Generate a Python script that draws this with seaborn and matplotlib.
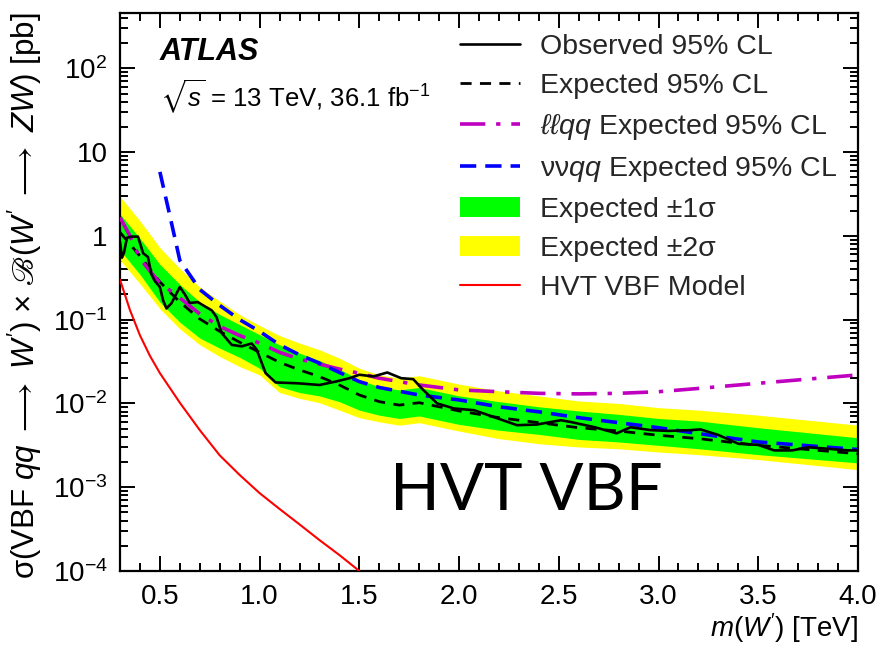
import numpy as np
import matplotlib
matplotlib.use("Agg")
import matplotlib.pyplot as plt
import seaborn as sns
from matplotlib.lines import Line2D
from matplotlib.patches import Patch
from matplotlib.ticker import FixedLocator, LogLocator, NullFormatter, MultipleLocator

# ---------------- data ----------------
mass_exp = [0.3, 0.4, 0.5, 0.6, 0.7, 0.8, 0.9, 1.0, 1.1, 1.2, 1.3, 1.4, 1.5, 1.6, 1.7,
            1.8, 1.9, 2.0, 2.2, 2.4, 2.6, 2.8, 3.0, 3.2, 3.5, 4.0]
exp_limit = [1.10, 0.575, 0.282, 0.162, 0.102, 0.0724, 0.0537, 0.0407, 0.0309, 0.0251,
             0.0209, 0.0166, 0.0126, 0.0105, 0.00955, 0.0102, 0.00912, 0.00813, 0.00676,
             0.00589, 0.00513, 0.00468, 0.00417, 0.00380, 0.00316, 0.00251]
green_hi = [1.82, 0.933, 0.457, 0.263, 0.162, 0.115, 0.0871, 0.0661, 0.0501, 0.0398,
            0.0324, 0.0257, 0.0191, 0.0158, 0.0145, 0.0155, 0.0138, 0.0123, 0.0105,
            0.00912, 0.00813, 0.00741, 0.00661, 0.00617, 0.00513, 0.00389]
green_lo = [0.676, 0.347, 0.162, 0.0933, 0.0603, 0.0457, 0.0355, 0.0263, 0.0158, 0.0135,
            0.0123, 0.0105, 0.00832, 0.00724, 0.00661, 0.00708, 0.00631, 0.00562, 0.00479,
            0.00427, 0.00372, 0.00347, 0.00316, 0.00288, 0.00245, 0.00195]
yellow_hi = [2.95, 1.51, 0.724, 0.407, 0.245, 0.166, 0.115, 0.0851, 0.0646, 0.0525,
             0.0437, 0.0347, 0.0263, 0.0219, 0.0200, 0.0214, 0.0191, 0.0170, 0.0141,
             0.0123, 0.0107, 0.0100, 0.00891, 0.00832, 0.00724, 0.00550]
yellow_lo = [0.513, 0.269, 0.135, 0.0776, 0.0501, 0.0363, 0.0275, 0.0219, 0.0135, 0.0115,
             0.0102, 0.00832, 0.00676, 0.00603, 0.00550, 0.00589, 0.00525, 0.00468,
             0.00380, 0.00331, 0.00302, 0.00288, 0.00263, 0.00245, 0.00214, 0.00162]

mass_obs = [0.30, 0.31, 0.32, 0.335, 0.357, 0.39, 0.416, 0.44, 0.457, 0.474, 0.50, 0.516,
            0.533, 0.558, 0.60, 0.625, 0.65, 0.69, 0.717, 0.76, 0.784, 0.81, 0.86, 0.91,
            0.96, 0.985, 1.03, 1.08, 1.19, 1.30, 1.38, 1.45, 1.50, 1.57, 1.64, 1.71, 1.77,
            1.82, 1.89, 1.975, 2.075, 2.18, 2.29, 2.39, 2.51, 2.56, 2.68, 2.79, 2.86, 2.96,
            3.05, 3.16, 3.21, 3.30, 3.40, 3.50, 3.58, 3.67, 3.75, 3.83, 3.95, 4.0]
obs_limit = [0.85, 0.55, 0.63, 0.95, 0.98, 0.98, 0.62, 0.56, 0.35, 0.29, 0.245, 0.17,
             0.136, 0.157, 0.245, 0.20, 0.158, 0.162, 0.148, 0.129, 0.107, 0.069, 0.050,
             0.048, 0.052, 0.044, 0.023, 0.0178, 0.0174, 0.0166, 0.0182, 0.020, 0.022,
             0.021, 0.0234, 0.020, 0.0195, 0.0145, 0.010, 0.0087, 0.0083, 0.0068, 0.0055,
             0.0056, 0.0063, 0.0060, 0.0052, 0.0044, 0.0052, 0.0048, 0.0047, 0.0048,
             0.0049, 0.0042, 0.0033, 0.0032, 0.00275, 0.00275, 0.0030, 0.0029, 0.00275,
             0.00275]

mass_llqq = [0.3, 0.35, 0.4, 0.45, 0.5, 0.6, 0.7, 0.8, 0.9, 1.0, 1.1, 1.2, 1.3, 1.4, 1.5,
             1.6, 1.8, 2.0, 2.2, 2.4, 2.6, 2.8, 3.0, 3.2, 3.5, 4.0]
llqq_limit = [1.66, 1.0, 0.537, 0.380, 0.275, 0.182, 0.117, 0.0832, 0.0646, 0.0525,
              0.0407, 0.0339, 0.0295, 0.0257, 0.0229, 0.0200, 0.0166, 0.0145, 0.0138,
              0.0132, 0.0130, 0.0132, 0.0138, 0.0151, 0.0174, 0.0219]

mass_vvqq = [0.5, 0.55, 0.6, 0.7, 0.8, 0.9, 1.0, 1.1, 1.2, 1.3, 1.4, 1.5, 1.6, 1.8, 2.0,
             2.2, 2.4, 2.6, 2.8, 3.0, 3.2, 3.5, 4.0]
vvqq_limit = [5.8, 1.74, 0.51, 0.229, 0.148, 0.100, 0.0724, 0.0501, 0.0380, 0.0302,
              0.0234, 0.0182, 0.0155, 0.0126, 0.0110, 0.00912, 0.00794, 0.00676, 0.00589,
              0.00513, 0.00437, 0.00347, 0.00282]

mass_hvt = [0.3, 0.35, 0.4, 0.45, 0.5, 0.6, 0.7, 0.8, 0.9, 1.0, 1.1, 1.2, 1.3, 1.4, 1.5]
hvt_xsec = [0.30, 0.13, 0.065, 0.037, 0.023, 0.0102, 0.0048, 0.0024, 0.0014, 0.00085,
            0.00055, 0.00036, 0.000234, 0.000155, 0.0001]

xtick_values = [0.5, 1.0, 1.5, 2.0, 2.5, 3.0, 3.5, 4.0]
xtick_labels = ["0.5", "1.0", "1.5", "2.0", "2.5", "3.0", "3.5", "4.0"]
ytick_values = [1e-4, 1e-3, 1e-2, 1e-1, 1, 10, 100]
ytick_labels = [r"$10^{-4}$", r"$10^{-3}$", r"$10^{-2}$", r"$10^{-1}$", "1", "10", r"$10^{2}$"]

legend_labels = ["Observed 95% CL", "Expected 95% CL", r"$\ell\ell qq$ Expected 95% CL",
                 r"νν$qq$ Expected 95% CL", "Expected ±1σ", "Expected ±2σ",
                 "HVT VBF Model"]

# ---------------- style ----------------
sns.set_theme(style="ticks")
plt.rcParams.update({
    "mathtext.fontset": "custom",
    "mathtext.rm": "Liberation Sans",
    "mathtext.it": "Liberation Sans:italic",
    "mathtext.bf": "Liberation Sans:bold",
    "mathtext.fallback": "stix",
    "axes.linewidth": 1.5,
})
plt.rcParams["font.family"] = ["Liberation Sans", "DejaVu Sans"]

BLACK = "#000000"
MAGENTA = "#C000C0"
BLUE = "#0000FF"
RED = "#FF0000"
GREEN = "#00FF00"
YELLOW = "#FFFF00"

fig = plt.figure(figsize=(8.78, 6.46), dpi=100)
ax = fig.add_axes([120 / 878, 1 - 571 / 646, (858 - 120) / 878, (571 - 13) / 646])

ax.fill_between(mass_exp, yellow_lo, yellow_hi, color=YELLOW, lw=0, zorder=1)
ax.fill_between(mass_exp, green_lo, green_hi, color=GREEN, lw=0, zorder=2)

sns.lineplot(x=mass_exp, y=exp_limit, ax=ax, color=BLACK, lw=2.0,
             linestyle=(0, (4, 3)), zorder=3)
sns.lineplot(x=mass_hvt, y=hvt_xsec, ax=ax, color=RED, lw=1.5, zorder=3)
sns.lineplot(x=mass_llqq, y=llqq_limit, ax=ax, color=MAGENTA, lw=2.6,
             linestyle=(0, (7, 3, 1.2, 3)), zorder=4)
sns.lineplot(x=mass_vvqq, y=vvqq_limit, ax=ax, color=BLUE, lw=2.6,
             linestyle=(0, (4.5, 2.5)), zorder=4)
sns.lineplot(x=mass_obs, y=obs_limit, ax=ax, color=BLACK, lw=1.9, zorder=5)

ax.set_yscale("log")
ax.set_xlim(0.3, 4.0)
ax.set_ylim(1e-4, 457)

ax.xaxis.set_major_locator(FixedLocator(xtick_values))
ax.set_xticklabels(xtick_labels)
ax.xaxis.set_minor_locator(MultipleLocator(0.1))
ax.yaxis.set_major_locator(FixedLocator(ytick_values))
ax.set_yticklabels(ytick_labels)
ax.yaxis.set_minor_locator(LogLocator(base=10, subs=np.arange(2, 10), numticks=20))
ax.yaxis.set_minor_formatter(NullFormatter())

ax.tick_params(which="both", direction="in", top=True, right=True, colors=BLACK,
               labelsize=20, width=1.4)
ax.tick_params(which="major", length=11)
ax.tick_params(which="minor", length=5.5)
ax.tick_params(axis="x", which="major", pad=9)
ax.tick_params(axis="y", which="major", pad=9)
for s in ax.spines.values():
    s.set_color(BLACK)
    s.set_linewidth(1.6)

ax.set_xlabel(r"$m(W')$ [TeV]", fontsize=20, loc="right", labelpad=1, color=BLACK)
ax.set_ylabel(r"σ(VBF $qq\ \longrightarrow\ W'$) $\times$ $ℬ$($W'\ \longrightarrow\ ZW$) [pb]",
              fontsize=22.5, loc="top", labelpad=6, color=BLACK)

handles = [
    Line2D([], [], color=BLACK, lw=1.9),
    Line2D([], [], color=BLACK, lw=2.0, linestyle=(0, (4, 3))),
    Line2D([], [], color=MAGENTA, lw=2.6, linestyle=(0, (7, 3, 1.2, 3))),
    Line2D([], [], color=BLUE, lw=2.6, linestyle=(0, (4.5, 2.5))),
    Patch(facecolor=GREEN, edgecolor="none"),
    Patch(facecolor=YELLOW, edgecolor="none"),
    Line2D([], [], color=RED, lw=1.5),
]
ax.legend(handles, legend_labels, loc="upper left",
          bbox_to_anchor=((460 - 120) / 738, (571 - 34) / 558),
          frameon=False, fontsize=20.5, handlelength=2.1, handletextpad=0.7,
          labelspacing=0.45, borderaxespad=0, borderpad=0)

fig.text(160 / 878, 1 - 52 / 646, "ATLAS", fontsize=22, fontweight="bold",
         fontstyle="italic", va="center", ha="left", color=BLACK)
fig.text(160 / 878, 1 - 97 / 646, r"$\sqrt{s}$ = 13 TeV, 36.1 fb$^{-1}$", fontsize=18.5,
         va="center", ha="left", color=BLACK)
fig.text(390 / 878, 1 - 491 / 646, "HVT VBF", fontsize=47, family=["Lato", "DejaVu Sans"],
         va="center", ha="left", color=BLACK)

fig.savefig("out.png", dpi=100)
